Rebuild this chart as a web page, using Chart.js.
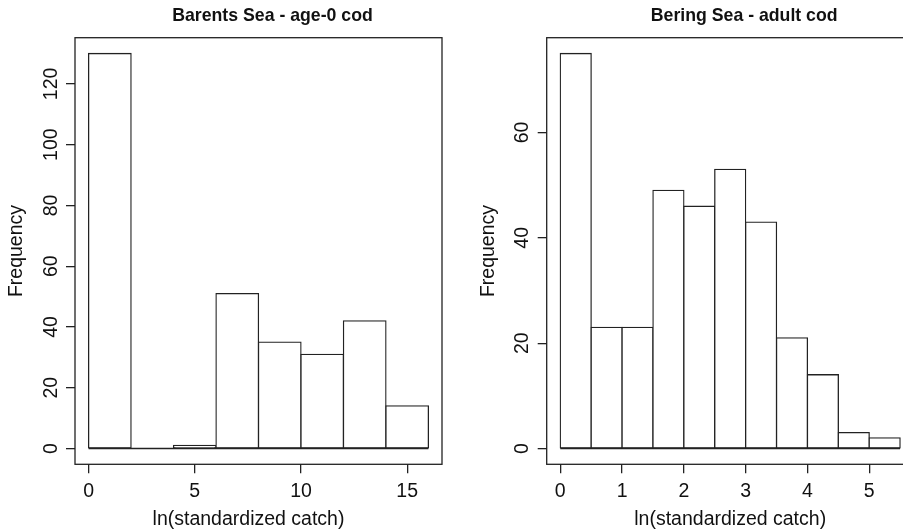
<!DOCTYPE html>
<html>
<head>
<meta charset="utf-8">
<script src="https://cdn.jsdelivr.net/npm/chart.js@4.4.1/dist/chart.umd.min.js"></script>
<style>
  html, body { margin:0; padding:0; background:#fff; width:903px; height:532px; overflow:hidden; }
  canvas { position:absolute; top:0; }
  #barents { left:0; }
  #bering { left:451px; }
</style>
</head>
<body>
<canvas id="barents" width="451" height="532"></canvas>
<canvas id="bering" width="480" height="532"></canvas>
<script>
// bin edges and counts
const barentsEdges = [0, 2, 4, 6, 8, 10, 12, 14, 16];
const barentsCounts = [130, 0, 1, 51, 35, 31, 42, 14];
const barentsXTicks = [0, 5, 10, 15];
const barentsYTicks = [0, 20, 40, 60, 80, 100, 120];

const beringEdges = [0, 0.5, 1, 1.5, 2, 2.5, 3, 3.5, 4, 4.5, 5, 5.5];
const beringCounts = [75, 23, 23, 49, 46, 53, 43, 21, 14, 3, 2];
const beringXTicks = [0, 1, 2, 3, 4, 5];
const beringYTicks = [0, 20, 40, 60];

const titles = ['Barents Sea - age-0 cod', 'Bering Sea - adult cod'];
const xLabel = 'ln(standardized catch)';
const yLabel = 'Frequency';

const FAMILY = '"Liberation Sans", Arial, Helvetica, sans-serif';
const INK = '#111';
const LINE = '#222';
const FONT_SIZE = 19.5;

// box around the plot region, baseline under the bins, panel title and x label
const rFrame = {
  id: 'rFrame',
  afterDatasetsDraw(chart, args, opts) {
    const { ctx, chartArea: a } = chart;
    const x = chart.scales.x, y = chart.scales.y;
    const mid = (a.left + a.right) / 2;
    ctx.save();
    ctx.strokeStyle = LINE;
    ctx.lineWidth = 1.3;
    ctx.strokeRect(a.left, a.top, a.right - a.left, a.bottom - a.top);
    const y0 = y.getPixelForValue(0);
    ctx.beginPath();
    ctx.moveTo(x.getPixelForValue(opts.edges[0]), y0);
    ctx.lineTo(x.getPixelForValue(opts.edges[opts.edges.length - 1]), y0);
    ctx.stroke();

    ctx.fillStyle = INK;
    ctx.textAlign = 'center';
    ctx.textBaseline = 'alphabetic';
    ctx.font = 'bold 17.7px ' + FAMILY;
    ctx.fillText(opts.title, mid + 14, 21);
    ctx.font = FONT_SIZE + 'px ' + FAMILY;
    ctx.fillText(opts.xLabel, mid + opts.xShift, 524.5);
    ctx.restore();
  }
};

// R pads the axis range by 4% on each side
function padRange(lo, hi) {
  const d = (hi - lo) * 0.04;
  return [lo - d, hi + d];
}

function histogram(canvasId, edges, counts, xTicks, yTicks, title, pad, yTickPad, xShift) {
  const points = counts.map((c, i) => ({ x: (edges[i] + edges[i + 1]) / 2, y: c }));
  const [xMin, xMax] = padRange(edges[0], edges[edges.length - 1]);
  const [yMin, yMax] = padRange(0, Math.max(...counts));
  const tickFont = { family: FAMILY, size: FONT_SIZE };

  return new Chart(document.getElementById(canvasId), {
    type: 'bar',
    data: {
      datasets: [{
        data: points,
        backgroundColor: '#fff',
        borderColor: LINE,
        borderWidth: 1.3,
        borderSkipped: false,
        inflateAmount: 0.65,
        barPercentage: 1,
        categoryPercentage: 1
      }]
    },
    options: {
      responsive: false,
      animation: false,
      layout: { padding: pad },
      plugins: {
        legend: { display: false },
        tooltip: { enabled: false },
        rFrame: { edges, title, xLabel, xShift }
      },
      scales: {
        x: {
          type: 'linear',
          min: xMin, max: xMax,
          offset: false,
          afterBuildTicks: s => { s.ticks = xTicks.map(v => ({ value: v })); },
          afterFit: s => { s.height = 67.7; },
          grid: { offset: false, drawOnChartArea: false, tickLength: 9, color: LINE, lineWidth: 1.3 },
          border: { display: false },
          ticks: { color: INK, font: tickFont, padding: 7, maxRotation: 0, minRotation: 0 },
          title: { display: false }
        },
        y: {
          min: yMin, max: yMax,
          afterBuildTicks: s => { s.ticks = yTicks.map(v => ({ value: v })); },
          afterFit: s => { s.width = 75; },
          grid: { drawOnChartArea: false, tickLength: 9, color: LINE, lineWidth: 1.3 },
          border: { display: false },
          ticks: { color: INK, font: tickFont, minRotation: 90, maxRotation: 90, crossAlign: 'center', padding: yTickPad },
          title: { display: true, text: yLabel, color: INK, font: tickFont, padding: { top: 5, bottom: 0 } }
        }
      }
    },
    plugins: [rFrame]
  });
}

histogram('barents', barentsEdges, barentsCounts, barentsXTicks, barentsYTicks, titles[0],
  { left: 0, right: 9, top: 37.7, bottom: 0 }, -1.6, -10);
histogram('bering', beringEdges, beringCounts, beringXTicks, beringYTicks, titles[1],
  { left: 20.7, right: 17.3, top: 37.7, bottom: 0 }, 3.8, 0);
</script>
</body>
</html>
